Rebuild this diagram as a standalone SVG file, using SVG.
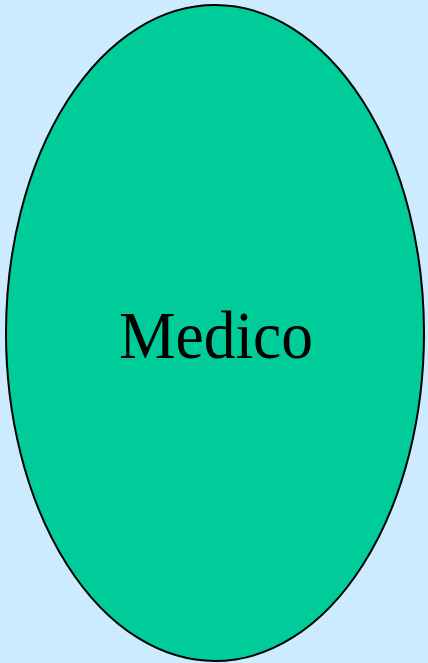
<svg xmlns="http://www.w3.org/2000/svg" width="428" height="663" viewBox="0 0 428 663">
<style>
.node-shape{fill:#00CC99;stroke:#000;stroke-width:2}
.label{font-family:"Liberation Serif","Times New Roman",serif;font-size:67px;fill:#000}
</style>
<rect width="428" height="663" fill="#CCEBFF"/>
<g id="connectors"/>
<g id="medico">
<ellipse class="node-shape" cx="215" cy="333" rx="209" ry="328"/>
<text class="label" x="119" y="358" textLength="194" lengthAdjust="spacingAndGlyphs">Medico</text>
</g>
</svg>
